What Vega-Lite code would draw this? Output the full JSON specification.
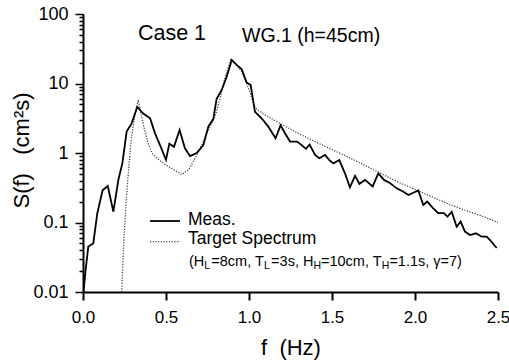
{
  "$schema": "https://vega.github.io/schema/vega-lite/v6.json",
  "width": 415,
  "height": 278,
  "autosize": {"type": "none"},
  "padding": {"left": 83, "top": 14, "right": 11, "bottom": 71},
  "background": "white",
  "config": {"font": "Liberation Sans", "view": {"stroke": null}},
  "datasets": {
    "meas": [
      {"f": 0.003, "S": 0.01}, {"f": 0.015, "S": 0.02}, {"f": 0.032, "S": 0.045}, {"f": 0.062, "S": 0.05},
      {"f": 0.086, "S": 0.135}, {"f": 0.118, "S": 0.29}, {"f": 0.149, "S": 0.335}, {"f": 0.183, "S": 0.143},
      {"f": 0.213, "S": 0.41}, {"f": 0.237, "S": 0.71}, {"f": 0.263, "S": 2.03}, {"f": 0.293, "S": 2.67},
      {"f": 0.327, "S": 4.6}, {"f": 0.363, "S": 3.7}, {"f": 0.404, "S": 3.16}, {"f": 0.434, "S": 1.92},
      {"f": 0.464, "S": 1.3}, {"f": 0.5, "S": 0.8}, {"f": 0.52, "S": 1.36}, {"f": 0.548, "S": 1.23},
      {"f": 0.582, "S": 2.14}, {"f": 0.614, "S": 1.17}, {"f": 0.645, "S": 0.9}, {"f": 0.685, "S": 1.0},
      {"f": 0.725, "S": 1.3}, {"f": 0.755, "S": 2.4}, {"f": 0.785, "S": 3.1}, {"f": 0.805, "S": 6.0},
      {"f": 0.835, "S": 8.0}, {"f": 0.866, "S": 12.6}, {"f": 0.896, "S": 21.8}, {"f": 0.926, "S": 18.5},
      {"f": 0.956, "S": 16.0}, {"f": 0.986, "S": 10.3}, {"f": 1.01, "S": 9.5}, {"f": 1.036, "S": 3.9},
      {"f": 1.076, "S": 3.16}, {"f": 1.116, "S": 2.4}, {"f": 1.16, "S": 1.63}, {"f": 1.19, "S": 2.5},
      {"f": 1.217, "S": 1.92}, {"f": 1.247, "S": 1.46}, {"f": 1.29, "S": 1.46}, {"f": 1.317, "S": 1.3},
      {"f": 1.343, "S": 1.15}, {"f": 1.365, "S": 1.32}, {"f": 1.398, "S": 0.94}, {"f": 1.424, "S": 0.84},
      {"f": 1.458, "S": 0.94}, {"f": 1.484, "S": 0.79}, {"f": 1.508, "S": 0.71}, {"f": 1.544, "S": 0.79},
      {"f": 1.578, "S": 0.51}, {"f": 1.608, "S": 0.32}, {"f": 1.639, "S": 0.47}, {"f": 1.665, "S": 0.36},
      {"f": 1.699, "S": 0.41}, {"f": 1.745, "S": 0.33}, {"f": 1.779, "S": 0.51}, {"f": 1.813, "S": 0.41},
      {"f": 1.849, "S": 0.37}, {"f": 1.89, "S": 0.31}, {"f": 1.93, "S": 0.277}, {"f": 1.96, "S": 0.249},
      {"f": 2.02, "S": 0.29}, {"f": 2.05, "S": 0.179}, {"f": 2.074, "S": 0.2}, {"f": 2.11, "S": 0.16},
      {"f": 2.14, "S": 0.136}, {"f": 2.175, "S": 0.136}, {"f": 2.195, "S": 0.121}, {"f": 2.221, "S": 0.143},
      {"f": 2.251, "S": 0.087}, {"f": 2.275, "S": 0.103}, {"f": 2.301, "S": 0.074}, {"f": 2.331, "S": 0.066},
      {"f": 2.367, "S": 0.07}, {"f": 2.402, "S": 0.0625}, {"f": 2.432, "S": 0.0625}, {"f": 2.452, "S": 0.056},
      {"f": 2.492, "S": 0.043}
    ],
    "target": [
      {"f": 0.233, "S": 0.01}, {"f": 0.245, "S": 0.05}, {"f": 0.26, "S": 0.2}, {"f": 0.275, "S": 0.6},
      {"f": 0.29, "S": 1.5}, {"f": 0.31, "S": 3.3}, {"f": 0.333, "S": 5.8}, {"f": 0.35, "S": 3.6},
      {"f": 0.37, "S": 2.2}, {"f": 0.39, "S": 1.45}, {"f": 0.415, "S": 1.0}, {"f": 0.445, "S": 0.84},
      {"f": 0.5, "S": 0.67}, {"f": 0.55, "S": 0.57}, {"f": 0.595, "S": 0.49}, {"f": 0.635, "S": 0.57},
      {"f": 0.675, "S": 0.84}, {"f": 0.715, "S": 1.3}, {"f": 0.765, "S": 2.4}, {"f": 0.795, "S": 3.3},
      {"f": 0.825, "S": 6.0}, {"f": 0.855, "S": 12.0}, {"f": 0.89, "S": 21.8}, {"f": 0.92, "S": 19.0},
      {"f": 0.955, "S": 15.0}, {"f": 0.99, "S": 9.5}, {"f": 1.01, "S": 7.0}, {"f": 1.03, "S": 4.8},
      {"f": 1.05, "S": 4.2}, {"f": 1.1, "S": 3.5}, {"f": 1.2, "S": 2.55}, {"f": 1.3, "S": 1.9},
      {"f": 1.4, "S": 1.45}, {"f": 1.5, "S": 1.12}, {"f": 1.6, "S": 0.87}, {"f": 1.7, "S": 0.66},
      {"f": 1.8, "S": 0.5}, {"f": 1.9, "S": 0.38}, {"f": 2.0, "S": 0.3}, {"f": 2.1, "S": 0.235},
      {"f": 2.2, "S": 0.185}, {"f": 2.3, "S": 0.15}, {"f": 2.4, "S": 0.125}, {"f": 2.5, "S": 0.1}
    ]
  },
  "encoding": {
    "x": {
      "field": "f", "type": "quantitative",
      "scale": {"domain": [0, 2.5], "nice": false, "zero": false},
      "axis": {
        "title": "f\u00a0\u00a0(Hz)", "values": [0, 0.5, 1, 1.5, 2, 2.5], "format": ".1f",
        "grid": false, "domainColor": "black", "domainWidth": 2, "tickColor": "black", "tickWidth": 2,
        "tickSize": 8, "labelPadding": 9, "labelFontSize": 17, "labelColor": "black", "labelFlush": false,
        "titleFontSize": 22, "titleFontWeight": "normal", "titleColor": "black", "titlePadding": 12
      }
    },
    "y": {
      "field": "S", "type": "quantitative",
      "scale": {"type": "log", "domain": [0.01, 100], "nice": false},
      "axis": {
        "title": "S(f)\u00a0\u00a0\u00a0(cm²s)",
        "values": [0.01, 0.02, 0.03, 0.04, 0.05, 0.06, 0.07, 0.08, 0.09, 0.1, 0.2, 0.3, 0.4, 0.5, 0.6, 0.7, 0.8, 0.9, 1, 2, 3, 4, 5, 6, 7, 8, 9, 10, 20, 30, 40, 50, 60, 70, 80, 90, 100],
        "labelExpr": "indexof([0.01,0.1,1,10,100], datum.value) >= 0 ? format(datum.value, '~g') : ''",
        "tickSize": {"condition": {"test": "indexof([0.01,0.1,1,10,100], datum.value) >= 0", "value": 8}, "value": 4},
        "grid": false, "domainColor": "black", "domainWidth": 2, "tickColor": "black", "tickWidth": 1.5,
        "labelPadding": 7, "labelFontSize": 18, "labelColor": "black", "labelOverlap": false, "labelFlush": false,
        "titleFontSize": 22, "titleFontWeight": "normal", "titleColor": "black",
        "titleX": -50, "titleY": 136
      }
    }
  },
  "layer": [
    {"data": {"name": "target"}, "mark": {"type": "line", "color": "#444", "strokeWidth": 1.3, "strokeDash": [1.2, 1.5], "clip": true}},
    {"data": {"name": "meas"}, "mark": {"type": "line", "color": "black", "strokeWidth": 1.8, "clip": true}},
    {"data": {"values": [{"f": 0.404, "f2": 0.584, "S": 0.105}]}, "mark": {"type": "rule", "color": "black", "strokeWidth": 1.8}, "encoding": {"x2": {"field": "f2"}}},
    {"data": {"values": [{"f": 0.404, "f2": 0.584, "S": 0.053}]}, "mark": {"type": "rule", "color": "#444", "strokeWidth": 1.3, "strokeDash": [1.2, 1.5]}, "encoding": {"x2": {"field": "f2"}}},
    {"data": {"values": [{"f": 0.331, "S": 51.6, "t": "Case 1"}]}, "mark": {"type": "text", "align": "left", "baseline": "middle", "fontSize": 21.5, "color": "black"}, "encoding": {"text": {"field": "t"}}},
    {"data": {"values": [{"f": 0.958, "S": 48.5, "t": "WG.1 (h=45cm)"}]}, "mark": {"type": "text", "align": "left", "baseline": "middle", "fontSize": 19.5, "color": "black"}, "encoding": {"text": {"field": "t"}}},
    {"data": {"values": [{"f": 0.6325, "S": 0.1087, "t": "Meas."}, {"f": 0.6325, "S": 0.058, "t": "Target Spectrum"}]}, "mark": {"type": "text", "align": "left", "baseline": "middle", "fontSize": 17.5, "color": "black"}, "encoding": {"text": {"field": "t"}}},
    {"data": {"values": [
      {"f": 0.6386, "S": 0.027, "t": "(H"},
      {"f": 0.7729, "S": 0.027, "t": "=8cm, T"},
      {"f": 1.1331, "S": 0.027, "t": "=3s, H"},
      {"f": 1.4337, "S": 0.027, "t": "=10cm, T"},
      {"f": 1.8458, "S": 0.027, "t": "=1.1s, γ=7)"}
    ]}, "mark": {"type": "text", "align": "left", "baseline": "middle", "fontSize": 14.5, "color": "black"}, "encoding": {"text": {"field": "t"}}},
    {"data": {"values": [
      {"f": 0.7307, "S": 0.027, "t": "L"},
      {"f": 1.091, "S": 0.027, "t": "L"},
      {"f": 1.388, "S": 0.027, "t": "H"},
      {"f": 1.8, "S": 0.027, "t": "H"}
    ]}, "mark": {"type": "text", "align": "left", "baseline": "middle", "fontSize": 10.5, "dy": 4, "color": "black"}, "encoding": {"text": {"field": "t"}}}
  ]
}
